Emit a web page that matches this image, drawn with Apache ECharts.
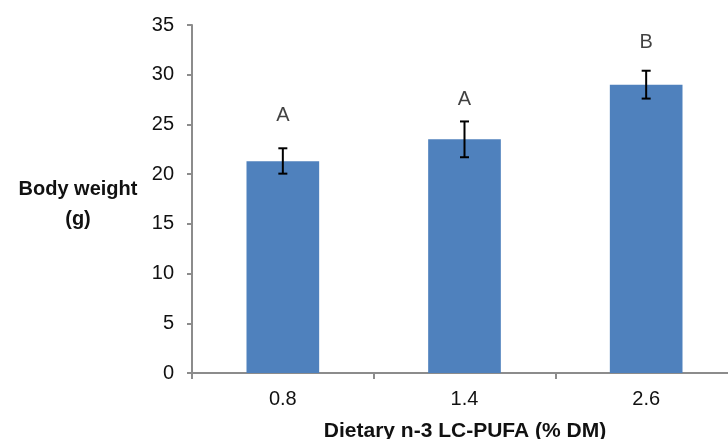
<!DOCTYPE html>
<html>
<head>
<meta charset="utf-8">
<script src="https://cdn.jsdelivr.net/npm/echarts@6/dist/echarts.min.js"></script>
<style>
  html, body { margin: 0; padding: 0; background: #fff; }
  #chart { width: 728px; height: 439px; }
</style>
</head>
<body>
<div id="chart"></div>
<script>
// Body weight by dietary n-3 LC-PUFA level
const categories = ['0.8', '1.4', '2.6'];
const bodyWeight = [21.3, 23.5, 29.0];
const errLow = [20.05, 21.7, 27.6];
const errHigh = [22.6, 25.3, 30.4];
const groupLetters = ['A', 'A', 'B'];
const letterY = [25.9, 27.5, 33.2];
const yTicks = { min: 0, max: 35, interval: 5 };

const FONT = '"Liberation Sans", Arial, sans-serif';
const axisGrey = '#8c8c8c';

const chart = echarts.init(document.getElementById('chart'), null, { renderer: 'canvas' });

chart.setOption({
  animation: false,
  backgroundColor: '#ffffff',
  grid: { left: 192, right: -9, top: 25, bottom: 66, containLabel: false, outerBoundsMode: 'none' },
  xAxis: {
    type: 'category',
    data: categories,
    boundaryGap: true,
    axisLine: { lineStyle: { color: axisGrey, width: 2 } },
    axisTick: { show: true, length: 6, lineStyle: { color: axisGrey, width: 2 } },
    axisLabel: { color: '#111', fontFamily: FONT, fontSize: 20, margin: 16 },
    splitLine: { show: false }
  },
  yAxis: {
    type: 'value',
    min: yTicks.min,
    max: yTicks.max,
    interval: yTicks.interval,
    axisLine: { show: true, lineStyle: { color: axisGrey, width: 2 } },
    axisTick: { show: true, length: 5, lineStyle: { color: axisGrey, width: 2 } },
    axisLabel: { color: '#111', fontFamily: FONT, fontSize: 20, margin: 18 },
    splitLine: { show: false }
  },
  graphic: [
    {
      type: 'text',
      x: 78, y: 189,
      style: {
        text: 'Body weight',
        font: 'bold 20px ' + FONT,
        fill: '#111',
        textAlign: 'center',
        textVerticalAlign: 'middle'
      }
    },
    {
      type: 'text',
      x: 78, y: 219,
      style: {
        text: '(g)',
        font: 'bold 20px ' + FONT,
        fill: '#111',
        textAlign: 'center',
        textVerticalAlign: 'middle'
      }
    },
    {
      type: 'text',
      x: 465, y: 431,
      style: {
        text: 'Dietary n-3 LC-PUFA (% DM)',
        font: 'bold 21px ' + FONT,
        fill: '#111',
        textAlign: 'center',
        textVerticalAlign: 'middle'
      }
    }
  ],
  series: [
    {
      type: 'bar',
      data: bodyWeight,
      barWidth: '40%',
      itemStyle: { color: '#4f81bd' }
    },
    {
      type: 'custom',
      data: categories.map((c, i) => [i, errLow[i], errHigh[i]]),
      z: 10,
      renderItem: function (params, api) {
        const x = api.value(0);
        const lo = api.coord([x, api.value(1)]);
        const hi = api.coord([x, api.value(2)]);
        const half = 4.5;
        const style = { stroke: '#000', lineWidth: 2 };
        return {
          type: 'group',
          children: [
            { type: 'line', shape: { x1: lo[0], y1: lo[1], x2: hi[0], y2: hi[1] }, style },
            { type: 'line', shape: { x1: lo[0] - half, y1: lo[1], x2: lo[0] + half, y2: lo[1] }, style },
            { type: 'line', shape: { x1: hi[0] - half, y1: hi[1], x2: hi[0] + half, y2: hi[1] }, style }
          ]
        };
      }
    },
    {
      type: 'scatter',
      data: letterY.map((v, i) => [i, v]),
      symbolSize: 0,
      silent: true,
      label: {
        show: true,
        position: 'inside',
        formatter: p => groupLetters[p.dataIndex],
        color: '#111',
        fontFamily: FONT,
        fontSize: 20
      }
    }
  ]
});
</script>
</body>
</html>
